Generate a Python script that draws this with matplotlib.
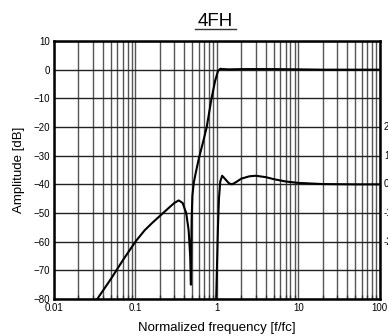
import numpy as np
import matplotlib.pyplot as plt
from matplotlib.lines import Line2D

plt.rcParams['font.family'] = ['Liberation Sans', 'DejaVu Sans']

# main high-pass response
f_main = [0.034, 0.05, 0.07, 0.1, 0.13, 0.16, 0.2, 0.25, 0.3, 0.34, 0.38,
          0.42, 0.45, 0.47, 0.48, 0.485, 0.49, 0.5, 0.52, 0.55, 0.6, 0.68, 0.75,
          0.86, 0.95, 1.03, 1.1, 1.2, 1.4, 2, 5, 10, 20, 100]
db_main = [-80, -73, -66.5, -60, -56, -53.5, -51, -48.5, -46.5, -45.6, -46.5,
           -50, -56, -65, -75, -62, -52, -44, -39.5, -36, -31, -25, -20,
           -10, -4, -0.5, 0.3, 0.2, 0.1, 0.2, 0.2, 0.1, 0, 0]

# second curve (offset by -40 dB)
f_sec = [0.98, 1.0, 1.03, 1.06, 1.1, 1.16, 1.25, 1.4, 1.53, 1.7, 2.0, 2.5,
         3, 4, 5, 7, 10, 20, 50, 100]
db_sec = [-80, -70, -55, -45, -39, -37, -38, -39.6, -40, -39.3, -38, -37.2,
          -37, -37.5, -38.2, -39, -39.5, -39.9, -40, -40]

yticks = [10, 0, -10, -20, -30, -40, -50, -60, -70, -80]
xticks = [0.01, 0.1, 1, 10, 100]
xtick_labels = ['0.01', '0.1', '1', '10', '100']
right_labels = ['20', '10', '0', '-10', '-20']
right_pos = [-20, -30, -40, -50, -60]

fig = plt.figure(figsize=(3.88, 3.36), dpi=100)
ax = fig.add_axes([0.139, 0.110, 0.840, 0.768])

ax.set_xscale('log')
ax.set_xlim(0.01, 100)
ax.set_ylim(-80, 10)

ax.plot(f_main, db_main, color='black', lw=1.5, clip_on=True, zorder=3)
ax.plot(f_sec, db_sec, color='black', lw=1.5, clip_on=True, zorder=3)

ax.set_xticks(xticks)
ax.set_xticklabels(xtick_labels)
ax.set_yticks(yticks)
ax.set_yticklabels([str(v).replace('-', '\u2212') for v in yticks])
ax.tick_params(labelsize=7, length=0, pad=3)
ax.tick_params(axis='x', which='minor', direction='in', length=3, width=1, color='#333333')
ax.tick_params(axis='x', which='minor', labelbottom=False)

ax.grid(True, which='major', axis='y', color='#222222', lw=1.0)
ax.grid(True, which='both', axis='x', color='#555555', lw=1.0)
ax.set_axisbelow(True)

for s in ax.spines.values():
    s.set_linewidth(1.8)

ax.set_xlabel('Normalized frequency [f/fc]', fontsize=9.5, labelpad=6)
ax.set_ylabel('Amplitude [dB]', fontsize=9.5, labelpad=6)

# right axis labels, cut off by the edge of the figure
for lab, p in zip(right_labels, right_pos):
    y = ax.transData.transform((1, p))[1]
    fig.text(384 / 388, y / 336, lab, fontsize=7, ha='left', va='center')

fig.text(0.556, 0.937, '4FH', fontsize=13.5, ha='center', va='center')
fig.add_artist(Line2D([0.503, 0.608], [0.913, 0.913], color='#333333', lw=1.0))

fig.savefig('out.png', dpi=100)
